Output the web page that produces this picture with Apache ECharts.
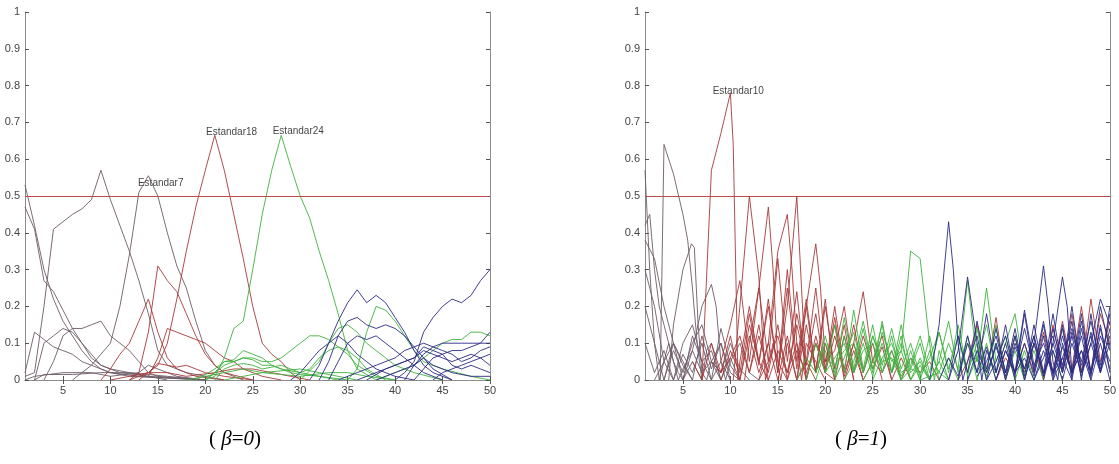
<!DOCTYPE html>
<html>
<head>
<meta charset="utf-8">
<script src="https://cdn.jsdelivr.net/npm/echarts@6/dist/echarts.min.js"></script>
<style>
  html, body { margin: 0; padding: 0; background: #fff; }
  #main { width: 1119px; height: 464px; }
</style>
</head>
<body>
<div id="main"></div>
<script>
// tick labels
const xTicks = [5, 10, 15, 20, 25, 30, 35, 40, 45, 50]
const threshold = 0.5

// (beta = 0) panel, [x, y] vertices per curve
const leftGray = [
  [[1,0.53],[2,0.42],[3,0.3],[4,0.22],[5,0.16],[6,0.12],[7,0.08],[8,0.05],[9,0.03],[10,0.02],[12,0.01],[20,0]],
  [[1,0.47],[2,0.41],[3,0.27],[4,0.24],[5,0.19],[6,0.14],[7,0.1],[8,0.06],[9,0.04],[10,0.03],[11,0.02],[14,0.01],[20,0]],
  [[1,0.01],[2,0.02],[3,0.2],[4,0.41],[5,0.43],[6,0.45],[7,0.465],[8,0.49],[9,0.57],[10,0.49],[11,0.42],[12,0.35],[13,0.27],[14,0.18],[15,0.08],[16,0.04],[18,0.02],[22,0]],
  [[1,0.02],[2,0.13],[3,0.11],[4,0.09],[5,0.08],[6,0.07],[7,0.05],[8,0.04],[9,0.03],[10,0.02],[13,0.01],[20,0]],
  [[3,0],[4,0.05],[5,0.12],[6,0.14],[7,0.14],[8,0.15],[9,0.16],[10,0.12],[11,0.1],[12,0.08],[13,0.05],[14,0.02],[15,0.01],[20,0]],
  [[2,0],[3,0.1],[4,0.12],[5,0.14],[6,0.13],[7,0.1],[8,0.07],[9,0.04],[10,0.03],[12,0.02],[16,0.01],[20,0]],
  [[6,0],[7,0.02],[8,0.04],[9,0.07],[10,0.1],[11,0.2],[12,0.34],[13,0.51],[14,0.555],[15,0.5],[16,0.4],[17,0.31],[18,0.25],[19,0.16],[20,0.08],[21,0.04],[22,0.02],[24,0]],
  [[1,0],[2,0.01],[5,0.02],[8,0.02],[10,0.01],[13,0.02],[14,0.04],[15,0.03],[17,0.01],[20,0]],
  [[2,0],[3,0.015],[6,0.015],[9,0.02],[12,0.02],[14,0.01],[16,0]]
]
const leftRed = [
  [[12,0],[13,0.01],[14,0.02],[15,0.04],[16,0.1],[17,0.22],[18,0.35],[19,0.47],[20,0.57],[21,0.665],[22,0.57],[23,0.45],[24,0.33],[25,0.2],[26,0.1],[27,0.07],[28,0.05],[29,0.02],[30,0]],
  [[12,0],[13,0.02],[14,0.13],[15,0.31],[16,0.27],[17,0.24],[18,0.18],[19,0.12],[20,0.07],[21,0.04],[22,0.02],[25,0]],
  [[13,0],[14,0.02],[15,0.045],[16,0.04],[17,0.035],[18,0.04],[19,0.03],[20,0.02],[22,0.01],[25,0]],
  [[10,0],[12,0.01],[14,0.02],[16,0.02],[18,0.01],[21,0.02],[23,0.03],[25,0.03],[27,0.02],[29,0.01],[31,0]],
  [[14,0.01],[15,0.06],[16,0.14],[17,0.13],[18,0.12],[19,0.11],[20,0.1],[21,0.08],[22,0.06],[23,0.05],[24,0.03],[26,0.01],[28,0]],
  [[9,0],[10,0.03],[11,0.07],[12,0.1],[13,0.16],[14,0.22],[15,0.13],[16,0.06],[17,0.03],[19,0.01],[22,0]]
]
const leftGreen = [
  [[20,0],[21,0.01],[22,0.06],[23,0.14],[24,0.16],[25,0.3],[26,0.45],[27,0.57],[28,0.665],[29,0.58],[30,0.5],[31,0.44],[32,0.35],[33,0.27],[34,0.18],[35,0.08],[36,0.03],[38,0]],
  [[35,0],[36,0.03],[37,0.13],[38,0.2],[39,0.19],[40,0.16],[41,0.12],[42,0.08],[43,0.05],[45,0.03],[48,0.01],[50,0]],
  [[20,0],[22,0.04],[24,0.06],[25,0.06],[26,0.05],[27,0.05],[28,0.06],[29,0.08],[30,0.1],[31,0.12],[32,0.12],[33,0.11],[34,0.09],[35,0.07],[36,0.04],[38,0.01],[40,0]],
  [[19,0],[21,0.03],[22,0.05],[23,0.055],[24,0.08],[25,0.07],[26,0.06],[27,0.04],[28,0.03],[29,0.02],[30,0.015],[32,0.01],[35,0]],
  [[20,0],[21,0.02],[22,0.05],[23,0.05],[24,0.06],[25,0.055],[26,0.04],[27,0.04],[28,0.03],[30,0.02],[31,0.03],[32,0.06],[33,0.08],[34,0.09],[35,0.08],[36,0.06],[37,0.03],[39,0]],
  [[21,0],[22,0.03],[23,0.04],[24,0.045],[25,0.04],[26,0.03],[27,0.035],[28,0.04],[29,0.03],[30,0.02],[32,0.01],[34,0]],
  [[18,0],[20,0.01],[22,0.02],[24,0.03],[26,0.02],[28,0.015],[30,0.01],[33,0.02],[35,0.02],[37,0.01],[40,0]],
  [[22,0],[24,0.01],[26,0.02],[28,0.025],[30,0.03],[32,0.02],[34,0.01],[36,0]],
  [[38,0],[40,0.02],[42,0.04],[44,0.08],[45,0.1],[46,0.11],[47,0.11],[48,0.13],[49,0.13],[50,0.12]],
  [[30,0],[32,0.05],[33,0.1],[34,0.14],[35,0.15],[36,0.13],[37,0.1],[38,0.08],[39,0.06],[40,0.04],[42,0.02],[45,0]]
]
const leftBlue = [
  [[31,0],[32,0.04],[33,0.1],[34,0.16],[35,0.21],[36,0.245],[37,0.21],[38,0.23],[39,0.21],[40,0.17],[41,0.13],[42,0.08],[43,0.04],[44,0.02],[46,0]],
  [[40,0],[41,0.02],[42,0.05],[43,0.13],[44,0.17],[45,0.2],[46,0.22],[47,0.21],[48,0.23],[49,0.27],[50,0.3]],
  [[32,0],[33,0.05],[34,0.12],[35,0.16],[36,0.17],[37,0.15],[38,0.14],[39,0.15],[40,0.14],[41,0.12],[42,0.09],[43,0.06],[44,0.03],[46,0]],
  [[33,0],[34,0.05],[35,0.1],[36,0.12],[37,0.11],[38,0.12],[39,0.1],[40,0.08],[41,0.06],[42,0.04],[43,0.02],[45,0]],
  [[41,0],[42,0.04],[43,0.07],[44,0.09],[45,0.1],[46,0.1],[47,0.1],[48,0.1],[49,0.1],[50,0.1]],
  [[42,0],[43,0.03],[44,0.06],[45,0.07],[46,0.08],[47,0.08],[48,0.09],[49,0.1],[50,0.13]],
  [[36,0],[38,0.02],[40,0.04],[42,0.06],[43,0.08],[44,0.07],[45,0.06],[46,0.05],[47,0.06],[48,0.07],[49,0.06],[50,0.04]],
  [[37,0],[39,0.03],[41,0.05],[42,0.06],[43,0.09],[44,0.08],[45,0.07],[46,0.04],[47,0.03],[48,0.04],[49,0.03],[50,0.02]],
  [[34,0],[36,0.02],[38,0.04],[40,0.06],[41,0.08],[42,0.09],[43,0.1],[44,0.09],[45,0.08],[46,0.07],[47,0.05],[48,0.06],[49,0.08],[50,0.09]],
  [[44,0],[45,0.02],[46,0.03],[47,0.04],[48,0.05],[49,0.06],[50,0.07]],
  [[29,0],[30,0.02],[31,0.05],[32,0.08],[33,0.1],[34,0.12],[35,0.1],[36,0.07],[37,0.05],[38,0.03],[40,0.01],[42,0]],
  [[38,0],[40,0.02],[42,0.04],[43,0.06],[44,0.04],[46,0.02],[48,0.01],[50,0.01]]
]

// (beta = 1) panel
const rightGray = [
  [[1,0.57],[1.5,0.3],[2,0.1],[2.5,0],[3,0.05],[3.5,0.1],[4,0.05],[4.5,0],[5,0.03],[6,0.08],[7,0.02],[8,0.05],[9,0]],
  [[1,0.42],[1.5,0.45],[2,0.3],[2.5,0.2],[3,0.15],[3.5,0.1],[4,0.05],[4.5,0.02],[5,0],[6,0.05],[7,0]],
  [[1,0.38],[2,0.33],[3,0.2],[4,0.1],[5,0.04],[6,0]],
  [[2.6,0],[3,0.64],[4,0.56],[5,0.45],[5.5,0.38],[6,0.25],[6.5,0.1],[7,0],[7.5,0.08],[8,0.1],[8.5,0.05],[9,0]],
  [[3.5,0],[4,0.15],[5,0.3],[5.9,0.37],[6.2,0.36],[6.6,0.15],[7,0.02],[7.5,0],[8,0.05],[9,0.1],[10,0.02],[11,0]],
  [[5,0],[6,0.08],[7,0.2],[8,0.26],[8.5,0.2],[9,0.05],[9.5,0],[10,0.05],[11,0.1],[12,0.02],[13,0]],
  [[1,0.2],[2,0.1],[3,0],[4,0.1],[5,0.05],[6,0],[7,0.12],[8,0.03],[9,0.1],[10,0]],
  [[1,0.1],[2,0.02],[3,0.08],[4,0],[5,0.1],[6,0.15],[7,0.05],[8,0],[9,0.14],[10,0.04],[11,0]],
  [[2,0],[3,0.05],[4,0.1],[5,0],[6,0.12],[7,0.05],[8,0.08],[9,0],[10,0.06],[11,0]],
  [[1,0.3],[2,0.2],[3,0.05],[4,0],[5,0.07],[6,0.02],[7,0.1],[8,0],[9,0.05],[10,0]],
  [[3,0],[4,0.08],[5,0.02],[6,0.1],[7,0.15],[8,0.05],[9,0.02],[10,0.1],[11,0.03],[12,0]]
]
const rightRed = [
  [[6,0.05],[7,0],[8,0.57],[9,0.67],[10,0.78],[10.3,0.64],[10.8,0],[11,0.05],[12,0.2],[13,0.05],[14,0]],
  [[10.3,0],[11,0.2],[12,0.5],[13,0.28],[13.7,0],[14.5,0.1],[15,0.05],[16,0]],
  [[11.5,0],[12,0.1],[13,0.25],[14,0.47],[14.5,0.3],[15,0.05],[15.3,0],[16,0.1],[17,0],[18,0.05],[19,0]],
  [[13,0],[14,0.1],[15,0.35],[16,0.45],[16.5,0.3],[17,0.1],[17.5,0],[18,0.1],[19,0.05],[20,0]],
  [[15,0.02],[16,0.2],[17,0.5],[17.5,0.25],[18,0],[19,0.1],[20,0.02],[21,0]],
  [[17,0],[18,0.2],[19,0.37],[19.5,0.25],[20,0.05],[21,0.15],[22,0],[23,0.08],[24,0]],
  [[9,0.05],[10,0.15],[11,0.27],[12,0.05],[13,0.25],[14,0.05],[15,0.33],[16,0.05],[17,0.24],[18,0]],
  [[11,0],[12,0.15],[13,0.05],[14,0.2],[15,0.02],[16,0.3],[17,0.05],[18,0.22],[19,0.02],[20,0.2],[21,0.03],[22,0.15],[23,0]],
  [[12,0.02],[13,0.12],[14,0.02],[15,0.15],[16,0],[17,0.18],[18,0.05],[19,0.25],[20,0.03],[21,0.2],[22,0.02],[23,0.1],[24,0.24],[25,0.05],[26,0.12],[27,0]],
  [[7,0],[8,0.1],[9,0.02],[10,0.12],[11,0],[12,0.12],[13,0.02],[14,0.1],[15,0],[16,0.12],[17,0],[18,0.15],[19,0.02],[20,0.1],[21,0]],
  [[8,0.05],[9,0.02],[10,0.06],[11,0.12],[12,0.02],[13,0.15],[14,0],[15,0.08],[16,0.02],[17,0.1],[18,0],[19,0.12],[20,0.02],[21,0.17],[22,0.01],[23,0.1],[24,0]],
  [[34,0],[35,0.05],[36,0.15],[37,0.02],[38,0.17],[39,0],[40,0.12],[41,0.02],[42,0.1],[43,0],[44,0.15],[45,0.02],[46,0.18],[47,0.02],[48,0.22],[49,0.05],[50,0.16]],
  [[9,0],[10,0.08],[11,0.02],[12,0.18],[13,0.04],[14,0.22],[15,0.02],[16,0.25],[17,0.03],[18,0.2],[19,0.02],[20,0.22],[21,0],[22,0.12],[23,0]],
  [[13,0],[14,0.05],[15,0.12],[16,0.02],[17,0.15],[18,0.04],[19,0.18],[20,0.02],[21,0.12],[22,0.03],[23,0.15],[24,0.02],[25,0.1],[26,0]],
  [[16,0],[17,0.08],[18,0.02],[19,0.1],[20,0.05],[21,0.08],[22,0.2],[23,0.02],[24,0.12],[25,0.03],[26,0.09],[27,0],[28,0.06],[29,0]],
  [[24,0],[25,0.05],[26,0.02],[27,0.08],[28,0],[29,0.06],[30,0.02],[31,0.05],[32,0]],
  [[38,0],[39,0.06],[40,0.02],[41,0.1],[42,0.02],[43,0.13],[44,0.02],[45,0.16],[46,0.03],[47,0.2],[48,0.02],[49,0.18],[50,0.1]]
]
const rightGreen = [
  [[27,0.02],[28,0.08],[29,0.35],[30,0.33],[31,0.1],[31.5,0],[32,0.08],[33,0]],
  [[34,0],[35,0.1],[36,0.05],[37,0.25],[38,0.05],[39,0.12],[40,0],[41,0.08],[42,0]],
  [[18,0],[19,0.1],[20,0.02],[21,0.15],[22,0.02],[23,0.19],[24,0.03],[25,0.15],[26,0.02],[27,0.12],[28,0],[29,0.08],[30,0]],
  [[19,0.02],[20,0.12],[21,0.02],[22,0.17],[23,0.03],[24,0.14],[25,0.02],[26,0.16],[27,0.02],[28,0.12],[29,0],[30,0.06],[31,0]],
  [[24,0],[25,0.05],[26,0.15],[27,0.02],[28,0.1],[29,0.02],[30,0.05],[31,0],[32,0.05],[33,0.16],[34,0.02],[35,0.12],[36,0],[37,0.1],[38,0]],
  [[30,0],[31,0.08],[32,0.02],[33,0.1],[34,0.03],[35,0.27],[36,0.05],[37,0.15],[38,0.02],[39,0.1],[40,0.18],[41,0.02],[42,0.08],[43,0]],
  [[20,0.02],[21,0.06],[22,0.1],[23,0.02],[24,0.08],[25,0.1],[26,0.02],[27,0.08],[28,0.01],[29,0.06],[30,0],[32,0.02],[33,0]],
  [[21,0],[22,0.06],[23,0.13],[24,0.02],[25,0.12],[26,0.04],[27,0.14],[28,0.03],[29,0.1],[30,0.01],[31,0.12],[32,0],[33,0.06],[34,0]],
  [[22,0],[23,0.05],[24,0.16],[25,0.03],[26,0.1],[27,0.02],[28,0.15],[29,0.03],[30,0.1],[31,0],[32,0.05],[33,0]],
  [[19,0],[20,0.08],[21,0.01],[22,0.12],[23,0.02],[24,0.1],[25,0.01],[26,0.13],[27,0.05],[28,0.08],[29,0],[30,0.04],[31,0]],
  [[25,0],[26,0.06],[27,0.1],[28,0.02],[29,0.04],[30,0.12],[31,0.02],[32,0.13],[33,0.02],[34,0.15],[35,0.02],[36,0.1],[37,0]],
  [[28,0],[29,0.03],[30,0.02],[31,0.06],[32,0.13],[33,0.03],[34,0.12],[35,0.01],[36,0.14],[37,0.02],[38,0.15],[39,0],[40,0.08],[41,0]],
  [[35,0],[36,0.06],[37,0.01],[38,0.1],[39,0.02],[40,0.12],[41,0],[42,0.1],[43,0.02],[44,0.08],[45,0]],
  [[17,0],[18,0.06],[19,0.02],[20,0.1],[21,0.04],[22,0.08],[23,0.1],[24,0.02],[25,0.12],[26,0.05],[27,0.06],[28,0]]
]
const rightBlue = [
  [[31,0],[32,0.15],[33,0.43],[33.5,0.3],[34,0.1],[34.5,0],[35,0.05],[36,0.12],[37,0],[38,0.1],[39,0]],
  [[41,0],[42,0.1],[43,0.31],[43.5,0.2],[44,0.05],[44.5,0],[45,0.1],[46,0.02],[47,0.08],[48,0]],
  [[43,0],[44,0.1],[45,0.28],[45.5,0.2],[46,0.02],[47,0.12],[48,0],[49,0.1],[50,0]],
  [[33,0],[34,0.08],[35,0.28],[36,0.1],[36.5,0],[37,0.08],[38,0.02],[39,0.1],[40,0]],
  [[45,0],[46,0.1],[47,0.02],[48,0.1],[49,0.22],[50,0.15]],
  [[34,0],[35,0.12],[36,0.02],[37,0.18],[38,0.02],[39,0.15],[40,0.01],[41,0.18],[42,0.02],[43,0.15],[44,0.01],[45,0.15],[46,0],[47,0.14],[48,0.02],[49,0.12],[50,0.05]],
  [[36,0.01],[37,0.05],[38,0.12],[39,0.02],[40,0.14],[41,0.01],[42,0.15],[43,0.02],[44,0.18],[45,0.03],[46,0.2],[47,0.02],[48,0.13],[49,0.03],[50,0.12]],
  [[38,0],[39,0.08],[40,0.02],[41,0.1],[42,0.01],[43,0.12],[44,0],[45,0.12],[46,0.02],[47,0.18],[48,0.01],[49,0.15],[50,0.02]],
  [[40,0.02],[41,0.19],[42,0.04],[43,0.1],[44,0.02],[45,0.09],[46,0.02],[47,0.08],[48,0.02],[49,0.2],[50,0.08]],
  [[32,0],[33,0.06],[34,0.01],[35,0.1],[36,0.02],[37,0.09],[38,0],[39,0.08],[40,0.02],[41,0.06],[42,0],[43,0.08],[44,0.02],[45,0.06],[46,0]],
  [[33,0],[34,0.12],[35,0.02],[36,0.16],[37,0.03],[38,0.14],[39,0.02],[40,0.12],[41,0],[42,0.1],[43,0.02],[44,0.08],[45,0]],
  [[37,0],[38,0.05],[39,0.12],[40,0.02],[41,0.14],[42,0.03],[43,0.16],[44,0.02],[45,0.14],[46,0.01],[47,0.16],[48,0.02],[49,0.14],[50,0.03]],
  [[39,0],[40,0.09],[41,0.03],[42,0.12],[43,0.01],[44,0.14],[45,0.04],[46,0.16],[47,0],[48,0.18],[49,0.02],[50,0.2]],
  [[42,0],[43,0.06],[44,0.12],[45,0.02],[46,0.13],[47,0.04],[48,0.12],[49,0.02],[50,0.14]],
  [[35,0],[36,0.08],[37,0.02],[38,0.09],[39,0.01],[40,0.1],[41,0.03],[42,0.12],[43,0.01],[44,0.1],[45,0.02],[46,0.12],[47,0.01],[48,0.1],[49,0.02],[50,0.1]],
  [[44,0],[45,0.06],[46,0.14],[47,0.05],[48,0.16],[49,0.04],[50,0.18]]
]

const leftLabels = [[12.9, 0.536, 'Estandar7'], [20.07, 0.672, 'Estandar18'], [27.1, 0.675, 'Estandar24']]
const rightLabels = [[8.13, 0.786, 'Estandar10']]

const colors = { gray: '#6f5c68', red: '#a83a3a', green: '#3fb23f', blue: '#2b2b85' }

function lines(group, color, axis) {
  return group.map(d => ({
    type: 'line', xAxisIndex: axis, yAxisIndex: axis, data: d,
    symbol: 'none', silent: true,
    lineStyle: { color: color, width: 1, opacity: 0.9 }
  }))
}

function labelSeries(data, axis) {
  return {
    type: 'scatter', xAxisIndex: axis, yAxisIndex: axis, data: data,
    symbolSize: 0, silent: true,
    label: {
      show: true, position: 'right', distance: 0, color: '#111',
      fontFamily: 'Liberation Sans, Arial', fontSize: 10,
      formatter: p => p.value[2]
    }
  }
}

function thresholdSeries(axis) {
  return {
    type: 'line', xAxisIndex: axis, yAxisIndex: axis, data: [], silent: true,
    markLine: {
      symbol: 'none', silent: true, label: { show: false },
      lineStyle: { color: '#b84a4a', width: 1, type: 'solid' },
      data: [{ yAxis: threshold }]
    }
  }
}

const frame = { show: true, lineStyle: { color: '#8c8c8c', width: 1 } }
const tickStyle = { show: true, inside: true, length: 4, lineStyle: { color: '#555' } }
const lbl = { color: '#444', fontSize: 11, fontFamily: 'Liberation Sans, Arial' }

function xAxes(grid) {
  return [
    { gridIndex: grid, type: 'value', min: 1, max: 50, position: 'bottom',
      axisLine: frame, splitLine: { show: false },
      axisTick: Object.assign({ customValues: xTicks }, tickStyle),
      axisLabel: Object.assign({ customValues: xTicks, margin: 5 }, lbl) },
    { gridIndex: grid, type: 'value', min: 1, max: 50, position: 'top',
      axisLine: frame, splitLine: { show: false },
      axisTick: Object.assign({ customValues: xTicks }, tickStyle),
      axisLabel: { show: false } }
  ]
}
function yAxes(grid) {
  return [
    { gridIndex: grid, type: 'value', min: 0, max: 1, interval: 0.1, position: 'left',
      axisLine: frame, splitLine: { show: false }, axisTick: tickStyle,
      axisLabel: Object.assign({ margin: 5 }, lbl) },
    { gridIndex: grid, type: 'value', min: 0, max: 1, interval: 0.1, position: 'right',
      axisLine: frame, splitLine: { show: false }, axisTick: tickStyle,
      axisLabel: { show: false } }
  ]
}

const leftSeries = [].concat(
  lines(leftGray, colors.gray, 0), lines(leftRed, colors.red, 0),
  lines(leftGreen, colors.green, 0), lines(leftBlue, colors.blue, 0),
  [thresholdSeries(0), labelSeries(leftLabels, 0)]
)
const rightSeries = [].concat(
  lines(rightGray, colors.gray, 2), lines(rightRed, colors.red, 2),
  lines(rightGreen, colors.green, 2), lines(rightBlue, colors.blue, 2),
  [thresholdSeries(2), labelSeries(rightLabels, 2)]
)

const serif = 'Liberation Serif, Times New Roman'
const captionRich = {
  n: { fontFamily: serif, fontSize: 21, color: '#000', fontWeight: 'normal' },
  i: { fontFamily: serif, fontSize: 21, color: '#000', fontWeight: 'normal', fontStyle: 'italic' }
}

const chart = echarts.init(document.getElementById('main'), null, { renderer: 'canvas' })
chart.setOption({
  animation: false,
  backgroundColor: '#fff',
  title: [
    { text: '{n|( }{i|β}{n|=}{i|0}{n|)}', left: 204, top: 424, textStyle: { fontWeight: 'normal', rich: captionRich } },
    { text: '{n|( }{i|β}{n|=}{i|1}{n|)}', left: 830, top: 424, textStyle: { fontWeight: 'normal', rich: captionRich } }
  ],
  grid: [
    { left: 25, top: 12, width: 465, height: 368 },
    { left: 645, top: 12, width: 466, height: 368 }
  ],
  xAxis: xAxes(0).concat(xAxes(1)),
  yAxis: yAxes(0).concat(yAxes(1)),
  series: leftSeries.concat(rightSeries)
})
</script>
</body>
</html>
